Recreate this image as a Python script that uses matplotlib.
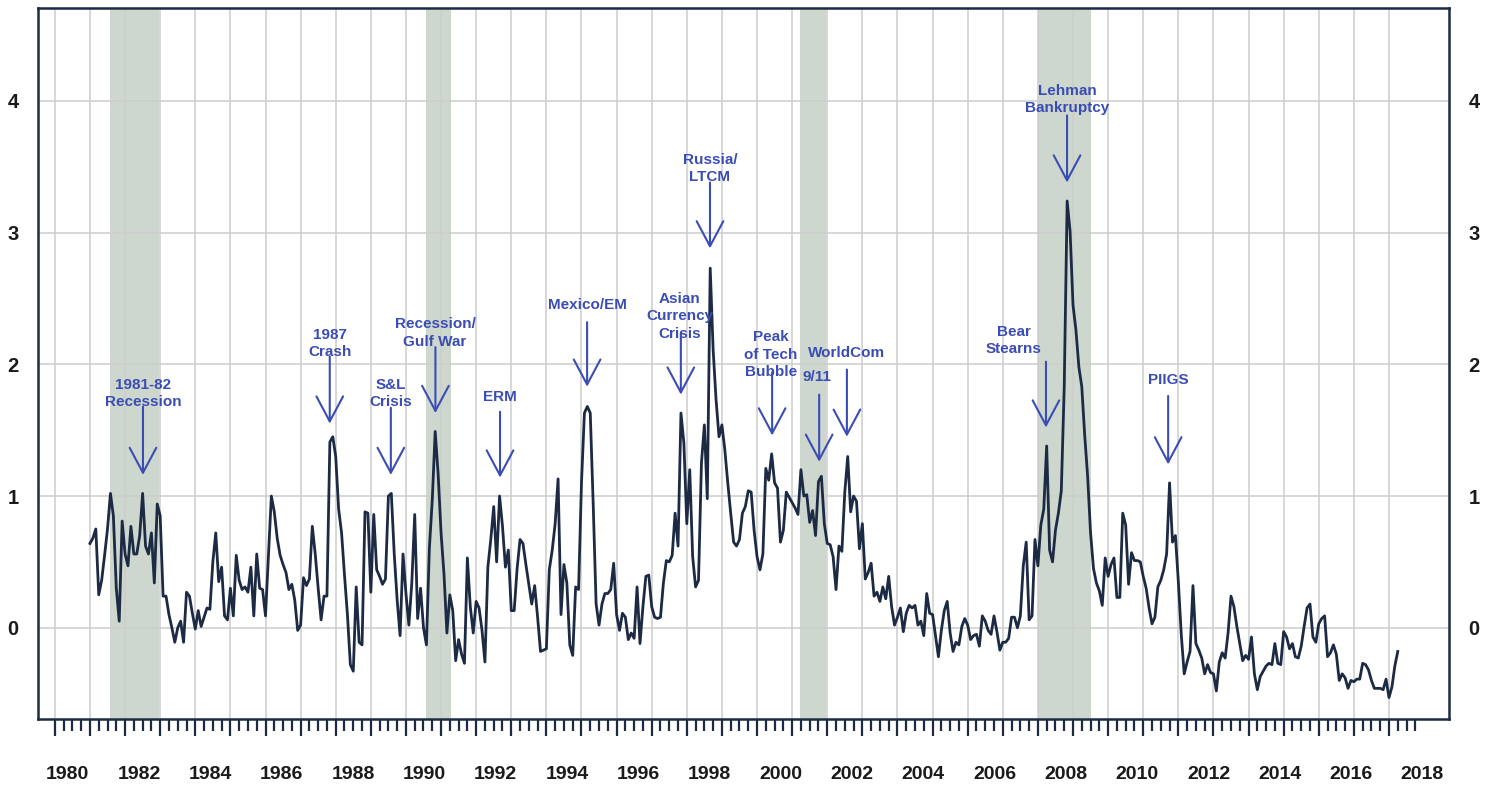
import numpy as np
import matplotlib.pyplot as plt
from matplotlib.ticker import FixedLocator

# Indice de estres financiero, datos mensuales desde enero 1981 (lectura aproximada)
fsi_1980s = [
    0.64, 0.68, 0.75, 0.25, 0.36, 0.55, 0.75, 1.02, 0.85, 0.30, 0.05, 0.81,   # 1981
    0.56, 0.47, 0.77, 0.56, 0.56, 0.70, 1.02, 0.62, 0.56, 0.72, 0.34, 0.94,   # 1982
    0.85, 0.24, 0.24, 0.10, 0.00, -0.11, 0.00, 0.05, -0.11, 0.27, 0.24, 0.11, # 1983
    -0.01, 0.13, 0.01, 0.08, 0.15, 0.14, 0.50, 0.72, 0.35, 0.46, 0.09, 0.06,  # 1984
    0.30, 0.09, 0.55, 0.36, 0.29, 0.31, 0.27, 0.46, 0.09, 0.56, 0.30, 0.29,   # 1985
    0.09, 0.55, 1.00, 0.88, 0.68, 0.55, 0.48, 0.42, 0.29, 0.33, 0.21, -0.02,  # 1986
    0.02, 0.38, 0.32, 0.37, 0.77, 0.56, 0.30, 0.06, 0.24, 0.24, 1.41, 1.45,   # 1987
    1.30, 0.90, 0.72, 0.40, 0.10, -0.28, -0.33, 0.31, -0.11, -0.13, 0.88, 0.87,  # 1988
    0.27, 0.86, 0.44, 0.39, 0.33, 0.37, 1.00, 1.02, 0.56, 0.21, -0.06, 0.56,  # 1989
]
fsi_1990s = [
    0.26, 0.02, 0.34, 0.86, 0.07, 0.30, 0.00, -0.13, 0.60, 0.97, 1.49, 1.17,  # 1990
    0.72, 0.41, -0.04, 0.25, 0.13, -0.25, -0.09, -0.20, -0.27, 0.53, 0.16, -0.04,  # 1991
    0.20, 0.15, -0.02, -0.26, 0.46, 0.67, 0.92, 0.50, 1.00, 0.77, 0.46, 0.59,  # 1992
    0.13, 0.13, 0.45, 0.67, 0.64, 0.48, 0.33, 0.18, 0.32, 0.08, -0.18, -0.17,  # 1993
    -0.16, 0.44, 0.59, 0.79, 1.13, 0.10, 0.48, 0.34, -0.13, -0.21, 0.31, 0.29,  # 1994
    1.10, 1.63, 1.68, 1.63, 0.94, 0.18, 0.02, 0.18, 0.26, 0.26, 0.29, 0.49,   # 1995
    0.10, -0.02, 0.11, 0.08, -0.09, -0.04, -0.08, 0.31, -0.12, 0.16, 0.39, 0.40,  # 1996
    0.16, 0.08, 0.07, 0.08, 0.34, 0.51, 0.50, 0.55, 0.87, 0.62, 1.63, 1.40,   # 1997
    0.79, 1.20, 0.54, 0.31, 0.36, 1.25, 1.54, 0.98, 2.73, 2.11, 1.73, 1.45,   # 1998
    1.54, 1.35, 1.10, 0.87, 0.65, 0.62, 0.67, 0.87, 0.92, 1.04, 1.03, 0.74,   # 1999
]
fsi_2000s = [
    0.54, 0.44, 0.56, 1.21, 1.12, 1.32, 1.10, 1.06, 0.65, 0.74, 1.03, 0.99,   # 2000
    0.95, 0.91, 0.86, 1.20, 1.00, 1.01, 0.80, 0.89, 0.70, 1.11, 1.15, 0.79,   # 2001
    0.64, 0.63, 0.54, 0.29, 0.62, 0.58, 1.03, 1.30, 0.88, 1.00, 0.96, 0.60,   # 2002
    0.79, 0.37, 0.42, 0.49, 0.24, 0.27, 0.20, 0.31, 0.22, 0.39, 0.16, 0.02,   # 2003
    0.08, 0.15, -0.03, 0.11, 0.17, 0.15, 0.17, 0.02, 0.05, -0.06, 0.26, 0.11,  # 2004
    0.10, -0.06, -0.22, -0.02, 0.13, 0.20, -0.04, -0.18, -0.11, -0.13, 0.01, 0.07,  # 2005
    0.02, -0.09, -0.06, -0.05, -0.14, 0.09, 0.05, -0.02, -0.05, 0.09, -0.03, -0.17,  # 2006
    -0.11, -0.11, -0.08, 0.08, 0.08, 0.00, 0.09, 0.47, 0.65, 0.06, 0.09, 0.67,  # 2007
    0.47, 0.78, 0.90, 1.38, 0.59, 0.50, 0.74, 0.87, 1.04, 1.83, 3.24, 3.01,   # 2008
    2.45, 2.26, 1.98, 1.83, 1.46, 1.15, 0.72, 0.45, 0.34, 0.28, 0.17, 0.53,   # 2009
]
fsi_2010s = [
    0.39, 0.48, 0.53, 0.23, 0.23, 0.87, 0.78, 0.33, 0.57, 0.51, 0.51, 0.50,   # 2010
    0.39, 0.30, 0.15, 0.03, 0.08, 0.31, 0.36, 0.44, 0.56, 1.10, 0.65, 0.70,   # 2011
    0.35, -0.05, -0.35, -0.26, -0.18, 0.32, -0.12, -0.17, -0.23, -0.35, -0.28, -0.34,  # 2012
    -0.35, -0.48, -0.26, -0.19, -0.23, -0.04, 0.24, 0.16, 0.01, -0.12, -0.25, -0.21,  # 2013
    -0.24, -0.07, -0.35, -0.47, -0.37, -0.33, -0.29, -0.27, -0.28, -0.12, -0.27, -0.28,  # 2014
    -0.03, -0.07, -0.16, -0.12, -0.22, -0.23, -0.14, 0.01, 0.15, 0.18, -0.07, -0.11,  # 2015
    0.03, 0.07, 0.09, -0.22, -0.19, -0.13, -0.20, -0.40, -0.35, -0.38, -0.46, -0.40,  # 2016
    -0.41, -0.39, -0.39, -0.27, -0.28, -0.32, -0.40, -0.46, -0.46, -0.46, -0.47, -0.39,  # 2017
    -0.53, -0.45, -0.29, -0.18,                                               # 2018
]
inicio = 1981.0

# recesiones (sombreado)
recesion_inicio = [1981.58, 1990.57, 2001.22, 2007.99]
recesion_fin = [1982.97, 1991.28, 2001.97, 2009.50]

# eventos anotados
eventos = ['1981-82\nRecession', '1987\nCrash', 'S&L\nCrisis', 'Recession/\nGulf War', 'ERM',
           'Mexico/EM', 'Asian\nCurrency\nCrisis', 'Russia/\nLTCM', 'Peak\nof Tech\nBubble',
           '9/11', 'WorldCom', 'Bear\nStearns', 'Lehman\nBankruptcy', 'PIIGS']
flecha_x = [1982.51, 1987.83, 1989.57, 1990.84, 1992.68, 1995.16, 1997.83, 1998.66, 2000.43,
            2001.77, 2002.56, 2008.23, 2008.83, 2011.71]
flecha_base = [1.68, 2.06, 1.67, 2.13, 1.64, 2.32, 2.24, 3.38, 1.94, 1.77, 1.96, 2.02, 3.89, 1.76]
flecha_punta = [1.16, 1.55, 1.16, 1.63, 1.14, 1.83, 1.77, 2.88, 1.46, 1.26, 1.45, 1.52, 3.38, 1.24]
texto_x = [1982.51, 1987.83, 1989.57, 1990.83, 1992.68, 1995.16, 1997.80, 1998.66, 2000.40,
           2001.71, 2002.54, 2007.32, 2008.83, 2011.71]
texto_y = [1.66, 2.04, 1.66, 2.12, 1.70, 2.40, 2.18, 3.37, 1.89, 1.85, 2.03, 2.06, 3.89, 1.83]

etiquetas_anios = list(range(1980, 2019, 2))

fsi = np.array(fsi_1980s + fsi_1990s + fsi_2000s + fsi_2010s)
fechas = inicio + np.arange(len(fsi)) / 12.0

azul = '#3b4db3'
marino = '#1c2a44'

fig = plt.figure(figsize=(14.96, 7.86), dpi=100)
ax = fig.add_axes([0.0254, 0.0852, 0.9432, 0.9046])

for a, b in zip(recesion_inicio, recesion_fin):
    ax.axvspan(a, b, color='#cdd7ce', zorder=0, lw=0)

ax.plot(fechas, fsi, color=marino, linewidth=2.0, zorder=3)

ax.set_xlim(1979.52, 2019.71)
ax.set_ylim(-0.693, 4.705)

# ejes y rejilla
ax.xaxis.set_major_locator(FixedLocator(np.arange(1980, 2019, 1)))
ax.xaxis.set_minor_locator(FixedLocator(np.arange(1980, 2018.8, 0.25)))
ax.set_yticks([0, 1, 2, 3, 4])
ax.grid(True, color='#cdcdcd', linewidth=1.1, zorder=1)
ax.set_axisbelow(True)
ax.set_xticklabels([])
ax.tick_params(axis='x', which='major', length=12, width=1.6, color=marino, direction='out')
ax.tick_params(axis='x', which='minor', length=8.5, width=1.6, color=marino, direction='out')
ax.tick_params(axis='y', length=0, labelleft=True, labelright=True, pad=14,
               labelsize=14.5)
for lab in ax.get_yticklabels():
    lab.set_fontweight('bold')
    lab.set_fontfamily('Liberation Sans')
    lab.set_color('#1a1a1a')
for s in ax.spines.values():
    s.set_color(marino)
    s.set_linewidth(1.8)

# etiquetas de anios (desplazadas como en el original)
for anio in etiquetas_anios:
    xpos = anio + 0.37 + (anio - 1980) * 0.0153
    ax.text(xpos, -0.0785, str(anio), transform=ax.get_xaxis_transform(), ha='center', va='center',
            fontsize=14, fontweight='bold', family='Liberation Sans', color='#1a1a1a')

# flechas y textos de eventos
for i in range(len(eventos)):
    ax.annotate('', xy=(flecha_x[i], flecha_punta[i]), xytext=(flecha_x[i], flecha_base[i]),
                arrowprops=dict(arrowstyle='->,head_length=0.9,head_width=0.48', color=azul,
                                lw=1.5, mutation_scale=20, shrinkA=0, shrinkB=0), zorder=4)
    ax.text(texto_x[i], texto_y[i], eventos[i], ha='center', va='bottom', color=azul,
            fontsize=11, fontweight='bold', family='Liberation Sans', linespacing=1.3,
            zorder=5)

plt.savefig('out.png', dpi=100)
